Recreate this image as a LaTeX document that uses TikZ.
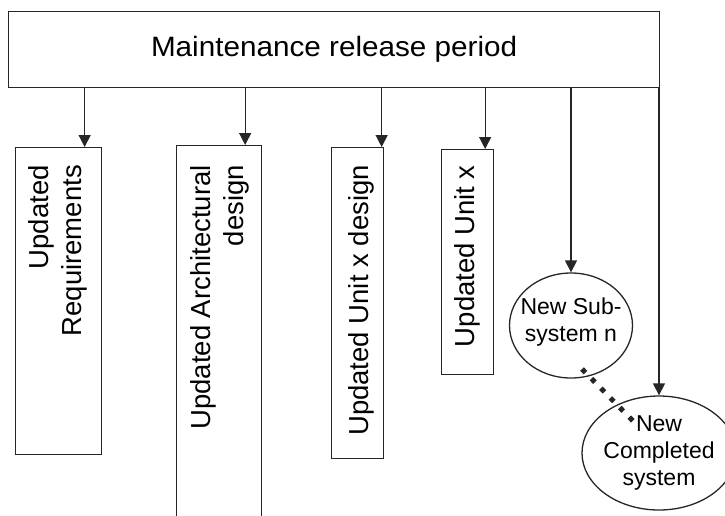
\documentclass[tikz,border=0pt]{standalone}
\usepackage{fontspec}
\usepackage{graphicx}
\setmainfont{Liberation Sans}
\usetikzlibrary{arrows.meta,shapes.geometric,calc}
\begin{document}
\begin{tikzpicture}[x=1pt,y=-1pt,
  ink/.style={draw=black!85, line width=1.3pt},
  boxnode/.style={ink, rectangle, inner sep=0pt, anchor=north west},
  vtext/.style={rotate=90, anchor=east, inner sep=0pt, align=right, font=\fontsize{27.5}{33}\selectfont},
  ellnode/.style={ink, ellipse, inner sep=0pt},
  etext/.style={align=center, inner sep=0pt, font=\fontsize{23}{27}\selectfont},
  arr/.style={ink, -{Triangle[length=12pt,width=12pt]}},
  dotline/.style={draw=black!85, line width=5pt, dash pattern=on 5pt off 8.5pt}]
\useasboundingbox (0,0) rectangle (725,515);

% top box
\node[boxnode, minimum width=651pt, minimum height=76pt, font=\fontsize{28}{30}\selectfont] (top) at (8,11) {\scalebox{1.06}[1]{Maintenance release period}};

% vertical boxes
\node[boxnode, minimum width=86pt, minimum height=307pt] (req) at (15,147) {};
\node[boxnode, minimum width=85pt, minimum height=390pt] (arch) at (176,145) {};
\node[boxnode, minimum width=52pt, minimum height=311pt] (unitd) at (331,147) {};
\node[boxnode, minimum width=52pt, minimum height=225pt] (unit) at (441,149) {};

% rotated texts
\node[vtext] (reqt) at (58,165) {Updated\\Requirements};
\node[vtext] (archt) at (220,165) {Updated Architectural\\design};
\node[vtext] (unitdt) at (361,165) {Updated Unit x design};
\node[vtext] (unitt) at (467,165) {Updated Unit x};

% ellipses
\node[ellnode, minimum width=123pt, minimum height=105pt] (sub) at (571,325.5) {};
\node[etext] (subt) at ([yshift=3pt]sub.center) {New Sub-\\system n};
\node[ellnode, minimum width=154pt, minimum height=114pt] (comp) at (659,453) {};
\node[etext] (compt) at (comp.center) {New\\Completed\\system};

% arrows
\draw[arr] ([xshift=26pt]req.north |- top.south) -- ([xshift=26pt]req.north);
\draw[arr] ([xshift=26pt]arch.north |- top.south) -- ([xshift=26pt]arch.north);
\draw[arr] ([xshift=24pt]unitd.north |- top.south) -- ([xshift=24pt]unitd.north);
\draw[arr] ([xshift=17.5pt]unit.north |- top.south) -- ([xshift=17.5pt]unit.north);
\draw[arr] (sub.north |- top.south) -- (sub.north);
\draw[arr] (comp.north |- top.south) -- (comp.north);

% dotted link
\coordinate (d1) at (582,369);
\coordinate (d2) at (633,421);
\draw[dotline] (d1) -- (d2);
\end{tikzpicture}
\end{document}
